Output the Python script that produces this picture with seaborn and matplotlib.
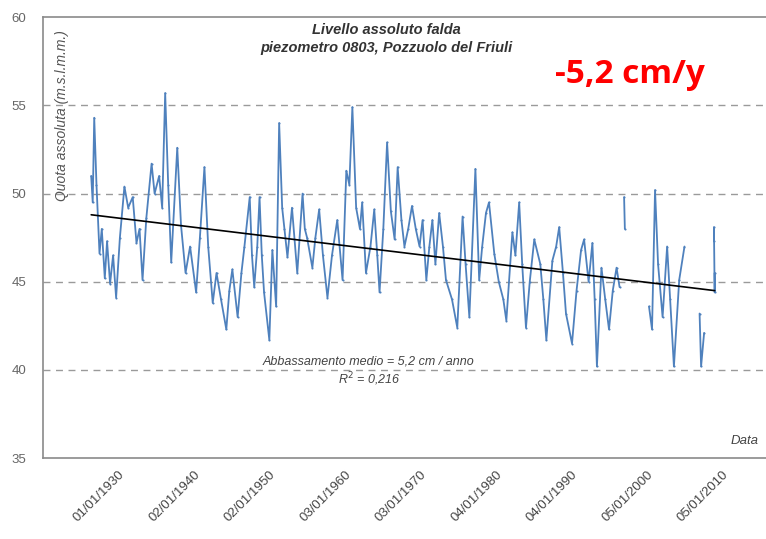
import numpy as np
import pandas as pd
import matplotlib
matplotlib.use("Agg")
import matplotlib.pyplot as plt
import seaborn as sns

# ---- data (decimal years, m a.s.l.) ----
seg1_years = [1926.4, 1926.6, 1926.8, 1927.1, 1927.5, 1927.8, 1928.2, 1928.5, 1928.9, 1929.3,
              1929.7, 1930.2, 1930.8, 1931.3, 1931.9, 1932.4, 1932.8, 1933.2, 1933.7, 1934.4,
              1934.8, 1935.4, 1935.8, 1936.2, 1936.6, 1937.0, 1937.8, 1938.3, 1938.9, 1939.5,
              1940.3, 1940.8, 1941.4, 1941.9, 1942.5, 1943.0, 1943.6, 1944.3, 1944.7, 1945.1,
              1945.8, 1946.3, 1946.7, 1947.4, 1947.7, 1948.0, 1948.4, 1948.7, 1949.0, 1949.3,
              1950.0, 1950.4, 1950.9, 1951.3, 1951.7, 1952.0, 1952.4, 1953.0, 1953.7, 1954.4,
              1954.7, 1955.0, 1955.7, 1956.1, 1956.6, 1957.1, 1957.7, 1958.3, 1959.0, 1959.7,
              1960.2, 1960.6, 1961.0, 1961.5, 1962.0, 1962.3, 1962.8, 1963.4, 1963.9, 1964.3,
              1964.6, 1965.1, 1965.6, 1966.1, 1966.6, 1967.0, 1967.5, 1967.9, 1968.4, 1968.9,
              1969.4, 1969.9, 1970.3, 1970.8, 1971.2, 1971.6, 1972.0, 1972.5, 1973.0, 1973.4,
              1974.2, 1974.9, 1975.6, 1976.0, 1976.5, 1977.3, 1977.8, 1978.2, 1978.7, 1979.1,
              1979.8, 1980.4, 1981.0, 1981.4, 1982.2, 1982.6, 1983.1, 1983.5, 1984.0, 1984.5,
              1985.1, 1985.9, 1986.3, 1986.7, 1987.5, 1988.0, 1988.4, 1988.9, 1989.3, 1990.1,
              1990.7, 1991.3, 1991.7, 1992.3, 1992.8, 1993.1, 1993.4, 1994.0, 1994.5, 1995.0,
              1995.5, 1996.0, 1996.4]
seg1_levels = [51.0, 49.5, 54.3, 50.5, 46.6, 48.0, 45.2, 47.3, 44.9, 46.5,
               44.1, 47.5, 50.4, 49.2, 49.8, 47.2, 48.0, 45.1, 48.6, 51.7,
               50.0, 51.0, 49.2, 55.7, 50.5, 46.1, 52.6, 48.2, 45.5, 47.0,
               44.4, 47.5, 51.5, 47.0, 43.8, 45.5, 44.0, 42.3, 44.5, 45.7,
               43.0, 45.5, 47.0, 49.8, 46.5, 44.7, 47.0, 49.8, 46.5, 44.4,
               41.7, 46.8, 43.6, 54.0, 49.2, 48.0, 46.4, 49.2, 45.5, 50.0,
               48.0, 47.5, 45.8, 47.5, 49.1, 46.5, 44.1, 46.5, 48.5, 45.1,
               51.3, 50.5, 54.9, 49.2, 48.0, 49.5, 45.5, 47.0, 49.1, 46.5,
               44.4, 48.0, 52.9, 49.0, 47.4, 51.5, 48.5, 47.0, 48.0, 49.3,
               48.0, 47.0, 48.5, 45.1, 47.0, 48.5, 46.0, 48.9, 47.0, 45.1,
               44.0, 42.4, 48.7, 46.0, 43.0, 51.4, 45.1, 47.0, 48.9, 49.5,
               46.6, 45.0, 44.0, 42.8, 47.8, 46.5, 49.5, 46.0, 42.4, 45.0,
               47.4, 46.0, 44.0, 41.7, 46.2, 47.0, 48.1, 45.5, 43.2, 41.5,
               44.5, 46.8, 47.4, 45.0, 47.2, 44.0, 40.2, 45.8, 44.0, 42.3,
               44.5, 45.8, 44.7]
seg2_years = [1997.0, 1997.1]
seg2_levels = [49.8, 48.0]
seg3_years = [2000.3, 2000.7, 2001.1, 2001.5, 2002.1, 2002.7, 2003.1, 2003.6, 2004.3, 2005.0]
seg3_levels = [43.6, 42.3, 50.2, 46.0, 43.0, 47.0, 44.0, 40.2, 45.1, 47.0]
seg4_years = [2007.0, 2007.2, 2007.6]
seg4_levels = [43.2, 40.2, 42.1]
seg5_years = [2008.9, 2008.9, 2009.0, 2009.0]
seg5_levels = [48.1, 47.3, 45.5, 44.4]

trend_years = [1926.4, 2009.0]
trend_levels = [48.8, 44.5]

tick_years = [1930, 1940, 1950, 1960, 1970, 1980, 1990, 2000, 2010]
tick_labels = ["01/01/1930", "02/01/1940", "02/01/1950", "03/01/1960", "03/01/1970",
               "04/01/1980", "04/01/1990", "05/01/2000", "05/01/2010"]
y_ticks = [35, 40, 45, 50, 55, 60]

segs = [(seg1_years, seg1_levels), (seg2_years, seg2_levels), (seg3_years, seg3_levels),
        (seg4_years, seg4_levels), (seg5_years, seg5_levels)]
df = pd.concat([pd.DataFrame({"anno": y, "quota": l, "seg": i})
                for i, (y, l) in enumerate(segs)], ignore_index=True)
trend = pd.DataFrame({"anno": trend_years, "quota": trend_levels})

sns.set_style("white")
plt.rcParams["font.family"] = ["Liberation Sans", "DejaVu Sans"]

fig = plt.figure(figsize=(7.66, 5.39), dpi=100)
ax = fig.add_axes([0.056, 0.150, 0.944, 0.818])

sns.lineplot(data=df, x="anno", y="quota", units="seg", estimator=None,
             color="#4f81bd", lw=1.3, marker=".", markersize=3, markeredgewidth=0,
             ax=ax, legend=False)
sns.lineplot(data=trend, x="anno", y="quota", color="black", lw=1.2, ax=ax,
             legend=False)

ax.set_xlim(1920, 2015.8)
ax.set_ylim(35, 60)
ax.set_yticks(y_ticks)
ax.set_yticklabels([str(v) for v in y_ticks], fontsize=9.5, color="#666666")
ax.set_xticks(tick_years)
ax.set_xticklabels(tick_labels, rotation=45, ha="right", rotation_mode="anchor",
                   fontsize=9.5, color="#444444")
ax.tick_params(axis="both", length=4, color="#888888", width=0.8)
ax.tick_params(axis="y", pad=8)
ax.set_xlabel("")
ax.set_ylabel("")

for v in [40, 45, 50, 55]:
    ax.axhline(v, color="#9a9a9a", lw=1.0, ls=(0, (5, 4)), zorder=0)

for s in ["left", "top", "bottom"]:
    ax.spines[s].set_color("#8a8a8a")
    ax.spines[s].set_linewidth(1.2)
ax.spines["right"].set_visible(False)

ax.text(0.017, 0.97, "Quota assoluta (m.s.l.m.m.)", transform=ax.transAxes,
        rotation=90, ha="left", va="top", fontsize=10, style="italic", color="#555555")
ax.text(0.971, 0.04, "Data", transform=ax.transAxes, ha="center", va="center",
        fontsize=9.5, style="italic", color="#444444")

fig.text(0.505, 0.944, "Livello assoluto falda", ha="center", va="center",
         fontsize=10.5, style="italic", weight="bold", color="#333333")
fig.text(0.505, 0.911, "piezometro 0803, Pozzuolo del Friuli", ha="center", va="center",
         fontsize=10.5, style="italic", weight="bold", color="#333333")

ax.text(1963.2, 40.5, "Abbassamento medio = 5,2 cm / anno", ha="center", va="center",
        fontsize=9, style="italic", color="#444444")
ax.text(1963.2, 39.45, "R$^2$ = 0,216", ha="center", va="center",
        fontsize=9, style="italic", color="#444444")

fig.text(0.7245, 0.861, "-5,2 cm/y", ha="left", va="center", fontsize=24,
         weight="bold", color="#ff0000", family=["Open Sans", "DejaVu Sans"])

fig.savefig("out.png", dpi=100)
